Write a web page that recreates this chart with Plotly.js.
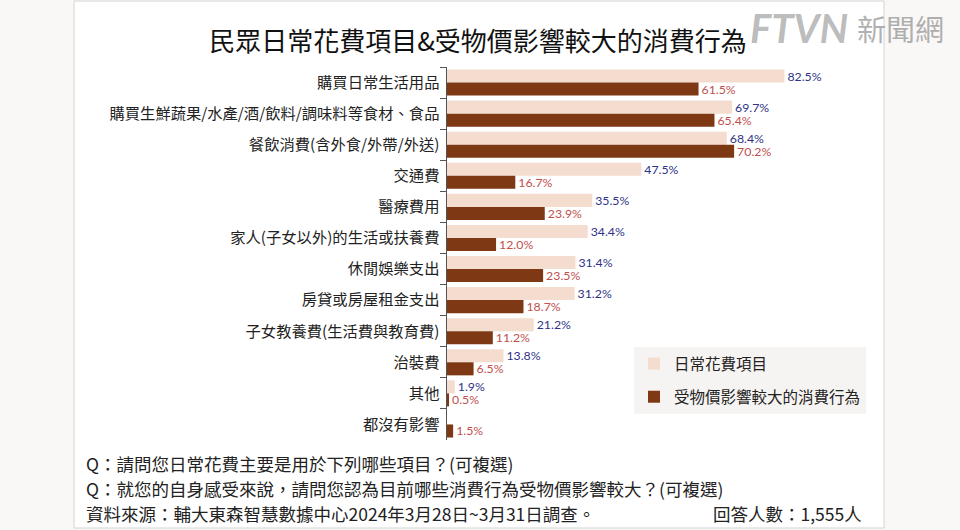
<!DOCTYPE html>
<html>
<head>
<meta charset="utf-8">
<script src="https://cdn.plot.ly/plotly-3.0.1.min.js"></script>
<style>
  html, body { margin: 0; padding: 0; background: #f9f8f6; }
  #chart { width: 960px; height: 530px; }
</style>
</head>
<body>
<div id="chart"></div>
<script>
const categories = [
  "購買日常生活用品",
  "購買生鮮蔬果/水產/酒/飲料/調味料等食材、食品",
  "餐飲消費(含外食/外帶/外送)",
  "交通費",
  "醫療費用",
  "家人(子女以外)的生活或扶養費",
  "休閒娛樂支出",
  "房貸或房屋租金支出",
  "子女教養費(生活費與教育費)",
  "治裝費",
  "其他",
  "都沒有影響"
];
const dailySpend = [82.5, 69.7, 68.4, 47.5, 35.5, 34.4, 31.4, 31.2, 21.2, 13.8, 1.9, null];
const priceImpact = [61.5, 65.4, 70.2, 16.7, 23.9, 12.0, 23.5, 18.7, 11.2, 6.5, 0.5, 1.5];
const seriesNames = ["日常花費項目", "受物價影響較大的消費行為"];
const footLines = [
  "Q：請問您日常花費主要是用於下列哪些項目？(可複選)",
  "Q：就您的自身感受來說，請問您認為目前哪些消費行為受物價影響較大？(可複選)",
  "資料來源：輔大東森智慧數據中心2024年3月28日~3月31日調查。"
];
const respondents = "回答人數：1,555人";
const titleText = "民眾日常花費項目&受物價影響較大的消費行為";

const W = 960, H = 530;
const M = { l: 447, r: 104, t: 67, b: 90 };
const PW = W - M.l - M.r, PH = H - M.t - M.b;
const px = x => (x - M.l) / PW;
const py = y => 1 - (y - M.t) / PH;

const cjk = '"Noto Sans CJK TC", "Noto Sans CJK SC", sans-serif';
const num = 'Lato, "Open Sans", sans-serif';
const fmt = v => v == null ? "" : v.toFixed(1) + "%";

const traces = [
  {
    type: "bar", orientation: "h", name: seriesNames[0], legendgroup: "a",
    y: categories, x: dailySpend,
    text: dailySpend.map(fmt), textposition: "outside", cliponaxis: false,
    textfont: { family: num, size: 12.3, color: "#2f3388" },
    marker: { color: "#f4dccf" },
    hoverinfo: "x+y"
  },
  {
    type: "bar", orientation: "h", name: seriesNames[1], legendgroup: "b",
    y: categories, x: priceImpact,
    text: priceImpact.map(fmt), textposition: "outside", cliponaxis: false,
    textfont: { family: num, size: 12.3, color: "#c0504d" },
    marker: { color: "#7e3814" },
    hoverinfo: "x+y"
  }
];
traces.forEach(t => { t.constraintext = "none"; });

const annotations = footLines.map((t, i) => ({
  text: t, xref: "paper", yref: "paper", x: px(84), y: py(463 + i * 25),
  xanchor: "left", yanchor: "middle", showarrow: false,
  font: { family: cjk, size: 17.5, color: "#222" }
}));
annotations.push({
  text: respondents, xref: "paper", yref: "paper", x: px(864), y: py(513),
  xanchor: "right", yanchor: "middle", showarrow: false,
  font: { family: cjk, size: 17.5, color: "#222" }
});
// watermark
annotations.push({
  text: "<i><b>FTVN</b></i>", xref: "paper", yref: "paper", x: px(850), y: py(28),
  xanchor: "right", yanchor: "middle", showarrow: false,
  font: { family: 'Lato, sans-serif', size: 40, color: "rgba(160,160,160,0.7)" }
});
annotations.push({
  text: "新聞網", xref: "paper", yref: "paper", x: px(946), y: py(28),
  xanchor: "right", yanchor: "middle", showarrow: false,
  font: { family: cjk, size: 29, color: "rgba(150,150,150,0.75)" }
});

const layout = {
  width: W, height: H,
  margin: M,
  paper_bgcolor: "#f9f8f6",
  plot_bgcolor: "rgba(0,0,0,0)",
  barmode: "group", bargap: 0.16, bargroupgap: 0,
  title: {
    text: titleText, xref: "container", yref: "container",
    x: 478 / W, y: 1 - 42 / H, xanchor: "center", yanchor: "middle",
    font: { family: cjk, size: 26, color: "#111" }
  },
  xaxis: { range: [0, 100], visible: false, fixedrange: true },
  yaxis: {
    autorange: "reversed", type: "category",
    showline: true, linecolor: "#555", linewidth: 1.5,
    ticks: "outside", tickson: "boundaries", ticklen: 6, tickcolor: "#555",
    tickfont: { family: cjk, size: 15.3, color: "#222" },
    ticklabelstandoff: 3, showgrid: false
  },
  showlegend: true,
  legend: {
    x: px(634), y: py(347), xanchor: "left", yanchor: "top",
    bgcolor: "#f6f4f2", borderwidth: 0,
    font: { family: cjk, size: 15.5, color: "#222" },
    traceorder: "grouped", tracegroupgap: 10,
    itemwidth: 30
  },
  shapes: [
    {
      type: "rect", xref: "paper", yref: "paper", layer: "below",
      x0: px(74), x1: px(884), y0: py(528), y1: py(1),
      fillcolor: "#ffffff", line: { color: "#d4d4d4", width: 1 }
    }
  ],
  annotations: annotations
};

Plotly.newPlot("chart", traces, layout, { displayModeBar: false, staticPlot: true });
</script>
</body>
</html>
